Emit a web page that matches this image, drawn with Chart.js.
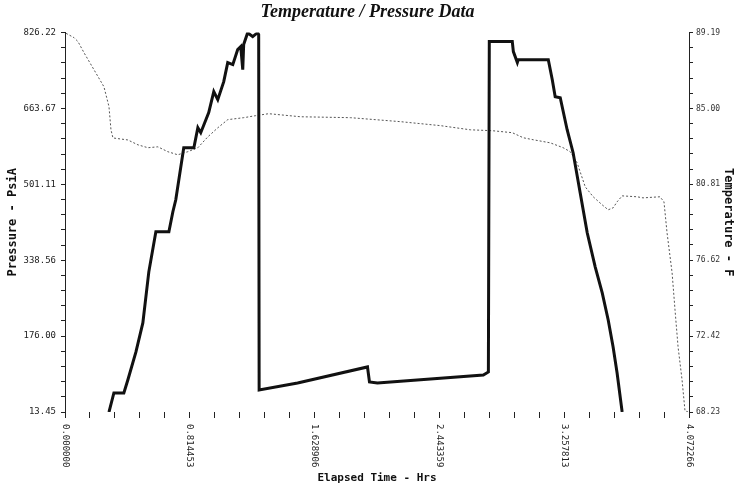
<!DOCTYPE html>
<html>
<head>
<meta charset="utf-8">
<script src="https://cdn.jsdelivr.net/npm/chart.js@4.4.1/dist/chart.umd.min.js"></script>
<style>
  html, body { margin: 0; padding: 0; background: #fff; }
  #wrap { width: 735px; height: 491px; position: relative; }
</style>
</head>
<body>
<div id="wrap"><canvas id="tpChart"></canvas></div>
<script>
// ---- data ----
const xTickLabels = ['0.000000', '0.814453', '1.628906', '2.443359', '3.257813', '4.072266'];
const xTickValues = [0, 0.814453, 1.628906, 2.443359, 3.257813, 4.072266];
const pressureTickLabels = ['13.45', '176.00', '338.56', '501.11', '663.67', '826.22'];
const pressureTickValues = [13.45, 176.00, 338.56, 501.11, 663.67, 826.22];
const tempTickLabels = ['68.23', '72.42', '76.62', '80.81', '85.00', '89.19'];
const tempTickValues = [68.23, 72.42, 76.62, 80.81, 85.00, 89.19];

// Pressure - PsiA (heavy line)
const pressureHrs = [0.287, 0.319, 0.384, 0.410, 0.463, 0.508, 0.547, 0.593, 0.678, 0.704, 0.723, 0.775, 0.841,
  0.867, 0.886, 0.938, 0.971, 0.997, 1.036, 1.062, 1.095, 1.127, 1.147, 1.160, 1.166, 1.192, 1.225, 1.257, 1.264,
  1.267, 1.518, 1.974, 1.987, 2.039, 2.730, 2.763, 2.769, 2.919, 2.926, 2.952, 2.958, 3.154, 3.180, 3.199, 3.232,
  3.277, 3.316, 3.362, 3.408, 3.460, 3.506, 3.545, 3.577, 3.603, 3.636];
const pressurePsi = [13.45, 54.2, 54.2, 82.1, 142.1, 204.3, 313.7, 399.5, 399.5, 442.4, 468.1, 579.6, 579.6,
  622.5, 611.8, 654.7, 699.7, 682.5, 721.1, 761.9, 757.6, 789.8, 796.2, 746.9, 800.5, 826.0, 817.6, 826.0, 821.9,
  60.6, 75.6, 110.0, 77.8, 75.6, 92.8, 99.2, 806.9, 806.9, 785.5, 761.9, 768.3, 768.3, 725.4, 689.0, 686.8,
  618.2, 568.9, 483.1, 397.3, 324.4, 268.6, 210.7, 152.8, 97.1, 13.45];

// Temperature - F (dotted line)
const tempHrs = [0.007, 0.059, 0.085, 0.124, 0.189, 0.254, 0.287, 0.300, 0.313, 0.410, 0.476, 0.541, 0.606,
  0.671, 0.736, 0.801, 0.867, 0.932, 0.997, 1.062, 1.166, 1.244, 1.329, 1.538, 1.863, 2.189, 2.450, 2.645,
  2.789, 2.919, 2.991, 3.056, 3.167, 3.251, 3.297, 3.342, 3.395, 3.447, 3.505, 3.545, 3.577, 3.603, 3.636,
  3.733, 3.772, 3.883, 3.909, 3.929, 3.962, 3.981, 4.001, 4.027, 4.046, 4.066];
const tempF = [89.15, 88.91, 88.69, 88.08, 87.14, 86.20, 85.10, 83.82, 83.37, 83.26, 82.99, 82.83, 82.88,
  82.61, 82.44, 82.61, 82.83, 83.43, 83.93, 84.38, 84.49, 84.60, 84.71, 84.54, 84.49, 84.27, 84.05, 83.82,
  83.77, 83.66, 83.38, 83.27, 83.10, 82.83, 82.61, 82.00, 80.67, 80.12, 79.68, 79.40, 79.51, 79.84, 80.17,
  80.12, 80.06, 80.12, 79.84, 78.13, 75.92, 73.87, 71.82, 70.00, 68.30, 68.23];

const monoFont = "'DejaVu Sans Mono', 'Liberation Mono', monospace";

// major ticks plus 4 minor ticks in between
function withMinorTicks(majors) {
    const out = [];
    for (let i = 0; i < majors.length; i++) {
        out.push({ value: majors[i], major: true });
        if (i < majors.length - 1) {
            const step = (majors[i + 1] - majors[i]) / 5;
            for (let k = 1; k < 5; k++) out.push({ value: majors[i] + step * k });
        }
    }
    return out;
}

function labelFor(values, labels, v) {
    const idx = values.findIndex(m => Math.abs(m - v) < 1e-6);
    return idx >= 0 ? labels[idx] : '';
}

// x tick labels are rotated clockwise in the original, so draw them by hand
const xLabelPlugin = {
    id: 'xLabels',
    afterDraw(chart) {
        const ctx = chart.ctx;
        const xs = chart.scales.x;
        const top = chart.chartArea.bottom + 12;
        ctx.save();
        ctx.font = '9px ' + monoFont;
        ctx.fillStyle = '#222';
        ctx.textAlign = 'left';
        ctx.textBaseline = 'middle';
        xTickValues.forEach((v, i) => {
            const px = xs.getPixelForValue(v);
            ctx.save();
            ctx.translate(px, top);
            ctx.rotate(Math.PI / 2);
            ctx.fillText(xTickLabels[i], 0, 0);
            ctx.restore();
        });
        ctx.restore();
    }
};

new Chart(document.getElementById('tpChart'), {
    type: 'line',
    data: {
        datasets: [
            {
                label: 'Pressure',
                data: pressureHrs.map((h, i) => ({ x: h, y: pressurePsi[i] })),
                yAxisID: 'y',
                borderColor: '#111',
                borderWidth: 3,
                pointRadius: 0,
                tension: 0,
                fill: false
            },
            {
                label: 'Temperature',
                data: tempHrs.map((h, i) => ({ x: h, y: tempF[i] })),
                yAxisID: 'y1',
                borderColor: '#555',
                borderWidth: 1,
                borderDash: [2, 2],
                pointRadius: 0,
                tension: 0,
                fill: false
            }
        ]
    },
    options: {
        responsive: true,
        maintainAspectRatio: false,
        animation: false,
        layout: { padding: { top: 0, bottom: 0, left: 0, right: 0 } },
        plugins: {
            legend: { display: false },
            tooltip: { enabled: false },
            title: {
                display: true,
                text: 'Temperature / Pressure Data',
                color: '#111',
                font: { family: "'Liberation Serif', serif", size: 18, style: 'italic', weight: 'bold' },
                padding: { top: 2, bottom: 9 }
            }
        },
        scales: {
            x: {
                type: 'linear',
                min: 0,
                max: 4.072266,
                afterBuildTicks(scale) {
                    scale.ticks = withMinorTicks(xTickValues);
                },
                afterFit(scale) { scale.height = 79; },
                ticks: { callback: () => '', autoSkip: false, maxRotation: 0 },
                grid: { drawOnChartArea: false, drawTicks: true, tickLength: 6, color: '#222' },
                border: { display: false },
                title: {
                    display: true,
                    text: 'Elapsed Time - Hrs',
                    color: '#111',
                    font: { family: monoFont, size: 11, weight: 'bold' },
                    padding: { top: 0, bottom: 6 }
                }
            },
            y: {
                position: 'left',
                min: 13.45,
                max: 826.22,
                afterBuildTicks(scale) {
                    scale.ticks = withMinorTicks(pressureTickValues);
                },
                afterFit(scale) { scale.width = 65; },
                ticks: {
                    autoSkip: false,
                    color: '#222',
                    font: { family: monoFont, size: 9 },
                    padding: 5,
                    callback: v => labelFor(pressureTickValues, pressureTickLabels, v)
                },
                grid: { drawOnChartArea: false, drawTicks: true, tickLength: 4, color: '#222' },
                border: { display: true, color: '#222', dash: [3, 3], width: 1 },
                title: {
                    display: true,
                    text: 'Pressure - PsiA',
                    color: '#111',
                    font: { family: monoFont, size: 12, weight: 'bold' },
                    padding: { top: 6, bottom: 2 }
                }
            },
            y1: {
                position: 'right',
                min: 68.23,
                max: 89.19,
                afterBuildTicks(scale) {
                    scale.ticks = withMinorTicks(tempTickValues);
                },
                afterFit(scale) { scale.width = 46; },
                ticks: {
                    autoSkip: false,
                    color: '#333',
                    font: { family: monoFont, size: 8 },
                    padding: 3,
                    callback: v => labelFor(tempTickValues, tempTickLabels, v)
                },
                grid: { drawOnChartArea: false, drawTicks: true, tickLength: 4, color: '#222' },
                border: { display: true, color: '#222', width: 1 },
                title: {
                    display: true,
                    text: 'Temperature - F',
                    color: '#111',
                    font: { family: monoFont, size: 12, weight: 'bold' },
                    padding: { top: 0, bottom: 0 }
                }
            }
        }
    },
    plugins: [xLabelPlugin]
});
</script>
</body>
</html>
